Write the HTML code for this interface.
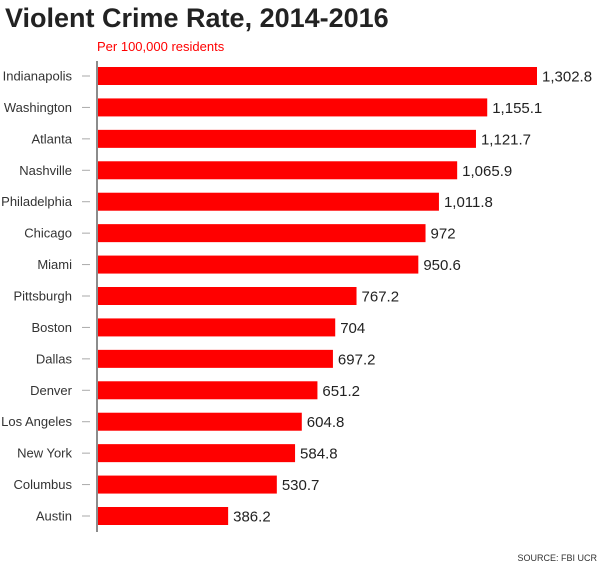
<!DOCTYPE html>
<html><head><meta charset="utf-8"><style>
html,body{margin:0;padding:0;background:#fff;}
body{width:600px;height:565px;overflow:hidden;font-family:"Liberation Sans",sans-serif;}
</style></head><body>
<svg width="600" height="565" xmlns="http://www.w3.org/2000/svg">
<text x="5" y="27" font-size="27" font-weight="bold" fill="#222">Violent Crime Rate, 2014-2016</text>
<text x="97" y="51" font-size="13" fill="#ff0000">Per 100,000 residents</text>
<line x1="97" y1="61" x2="97" y2="532" stroke="#666" stroke-width="1.5"/>
<g id="bars"></g>
<text x="597" y="561" font-size="9" fill="#333" text-anchor="end">SOURCE: FBI UCR</text>
</svg>
<script>
const cities=["Indianapolis","Washington","Atlanta","Nashville","Philadelphia","Chicago","Miami","Pittsburgh","Boston","Dallas","Denver","Los Angeles","New York","Columbus","Austin"];
const rates=[1302.8,1155.1,1121.7,1065.9,1011.8,972,950.6,767.2,704,697.2,651.2,604.8,584.8,530.7,386.2];
const valueLabels=["1,302.8","1,155.1","1,121.7","1,065.9","1,011.8","972","950.6","767.2","704","697.2","651.2","604.8","584.8","530.7","386.2"];
const x0=98, pxPerUnit=(537-98)/1302.8;
function xScale(v){return x0+v*pxPerUnit;}
function yScale(i){return 76+i*(440/14);}
const g=document.getElementById('bars');
const NS="http://www.w3.org/2000/svg";
cities.forEach((c,i)=>{
  const cy=yScale(i);
  const r=document.createElementNS(NS,'rect');
  r.setAttribute('x',x0);r.setAttribute('y',cy-9);
  r.setAttribute('width',xScale(rates[i])-x0);r.setAttribute('height',18);
  r.setAttribute('fill','#ff0000');
  
  
  g.appendChild(r);
  const t=document.createElementNS(NS,'text');
  t.setAttribute('x',72);t.setAttribute('y',cy+4.5);
  t.setAttribute('text-anchor','end');t.setAttribute('font-size','13');t.setAttribute('fill','#333');
  t.textContent=c;
  
  
  g.appendChild(t);
  const tk=document.createElementNS(NS,'line');
  tk.setAttribute('x1',82);tk.setAttribute('x2',90);tk.setAttribute('y1',cy);tk.setAttribute('y2',cy);
  tk.setAttribute('stroke','#aaa');tk.setAttribute('stroke-width','1');
  
  
  g.appendChild(tk);
  const v=document.createElementNS(NS,'text');
  v.setAttribute('x',xScale(rates[i])+5);v.setAttribute('y',cy+5.5);
  v.setAttribute('font-size','15');v.setAttribute('fill','#222');
  v.textContent=valueLabels[i];
  
  
  g.appendChild(v);
});
</script>
</body></html>
